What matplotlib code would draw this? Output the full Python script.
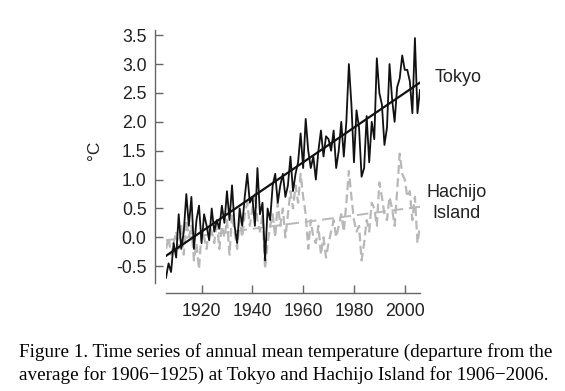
import numpy as np
import matplotlib
matplotlib.use("Agg")
from matplotlib import pyplot

# 年
years = np.arange(1906, 2007)

# Tokyo annual mean temperature anomaly (deg C)
tokyo = [
    -0.70, -0.45, -0.60, -0.10, -0.35, 0.40, -0.20, 0.10, 0.75, 0.20,
    0.70, -0.20, 0.30, 0.55, -0.10, 0.40, 0.20, -0.05, 0.50, 0.10,
    0.30, 0.15, 0.55, 0.25, 0.80, 0.30, 0.90, 0.20, -0.10, 0.50,
    0.20, 0.70, 1.10, 0.60, 0.70, 0.20, 1.20, 0.40, 0.60, -0.40,
    0.50, 0.30, 0.90, 1.10, 0.60, 0.90, 1.10, 0.70, 0.90, 1.40,
    0.80, 1.10, 1.30, 1.80, 1.20, 2.05, 1.50, 1.20, 1.40, 1.00,
    1.50, 1.85, 1.40, 1.75, 1.70, 1.50, 1.85, 1.20, 1.50, 2.00,
    1.40, 2.00, 3.00, 2.30, 1.30, 2.20, 1.90, 1.05, 1.20, 2.10,
    1.30, 2.00, 1.70, 3.10, 2.50, 2.30, 1.60, 1.90, 3.00, 2.40,
    2.00, 2.60, 2.75, 3.15, 2.90, 2.90, 2.70, 2.15, 3.45, 2.15,
    2.55,
]

# Hachijo Island
hachijo = [
    -0.20, 0.00, -0.30, -0.10, 0.10, -0.20, 0.20, -0.30, 0.30, 0.00,
    0.20, -0.40, -0.10, -0.55, 0.10, 0.00, -0.20, 0.20, 0.10, -0.10,
    0.30, -0.20, 0.20, 0.00, 0.30, -0.30, 0.40, 0.10, -0.20, 0.30,
    0.00, 0.40, 0.60, 0.20, 0.50, 0.75, 0.30, 0.10, 0.40, -0.55,
    -0.10, 0.20, 0.40, 0.00, 0.60, 0.20, 0.50, 0.00, 0.40, 0.80,
    0.50, 0.90, 0.60, 1.10, 0.70, 0.40, -0.20, 0.30, 0.00, -0.10,
    0.20, -0.30, 0.00, -0.35, -0.10, 0.10, 0.30, 0.00, 0.20, 0.40,
    0.10, 0.60, 1.15, 0.70, 0.30, 0.10, 0.20, -0.40, -0.10, 0.30,
    0.10, 0.60, 0.50, 0.20, 0.95, 0.70, 0.40, 0.30, 0.70, 0.50,
    0.20, 0.80, 1.45, 1.10, 1.00, 0.70, 0.80, 0.30, 0.70, -0.10,
    0.20,
]

# 直線トレンド (端点の値)
trend_years = [1906, 2006]
tokyo_trend = [-0.32, 2.68]
hachijo_trend = [-0.05, 0.53]

yticks = [-0.5, 0.0, 0.5, 1.0, 1.5, 2.0, 2.5, 3.0, 3.5]
xticks = [1920, 1940, 1960, 1980, 2000]

pyplot.rcParams["font.family"] = ["Liberation Sans", "DejaVu Sans"]

fig = pyplot.figure(figsize=(5.65, 3.91), dpi=100)
ax = fig.add_axes([166 / 565, 1 - 283 / 391, 254 / 565, 253 / 391])

gray = "#b8b8b8"
ax.plot(years, hachijo, color=gray, lw=1.6, dashes=(4, 2))
ax.plot(trend_years, hachijo_trend, color=gray, lw=1.4, dashes=(6, 3))
ax.plot(years, tokyo, color="#111111", lw=1.3)
ax.plot(trend_years, tokyo_trend, color="#111111", lw=1.6)

ax.set_xlim(1906, 2006)
ax.set_ylim(-0.79, 3.59)
ax.set_xticks(xticks)
ax.set_yticks(yticks)
ax.set_yticklabels([f"{v:.1f}" for v in yticks])

# 軸線を外側に離す
for side in ("top", "right"):
    ax.spines[side].set_visible(False)
ax.spines["left"].set_position(("outward", 8))
ax.spines["bottom"].set_position(("outward", 7.5))
for side in ("left", "bottom"):
    ax.spines[side].set_color("#666666")
    ax.spines[side].set_linewidth(1.0)
ax.tick_params(direction="in", length=6, width=1.0, color="#666666",
               labelsize=12.7, labelcolor="#222222", pad=6)
ax.tick_params(axis="x", pad=7)

fig.text(95 / 565, 1 - 150 / 391, "°C", rotation=90, fontsize=12.5,
         color="#222222", ha="center", va="center")
fig.text(458 / 565, 1 - 78 / 391, "Tokyo", fontsize=13, color="#222222",
         ha="center", va="center")
fig.text(457 / 565, 1 - 203 / 391, "Hachijo\nIsland", fontsize=13,
         color="#222222", ha="center", va="center", linespacing=1.3)

caption1 = "Figure 1. Time series of annual mean temperature (departure from the"
caption2 = "average for 1906\u22121925) at Tokyo and Hachijo Island for 1906\u22122006."
fig.text(19 / 565, 1 - 352 / 391, caption1, fontsize=13.8,
         family=["Liberation Serif", "DejaVu Serif"], va="center", ha="left")
fig.text(19 / 565, 1 - 375 / 391, caption2, fontsize=13.8,
         family=["Liberation Serif", "DejaVu Serif"], va="center", ha="left")

fig.savefig("out.png", dpi=100)
pyplot.close(fig)
